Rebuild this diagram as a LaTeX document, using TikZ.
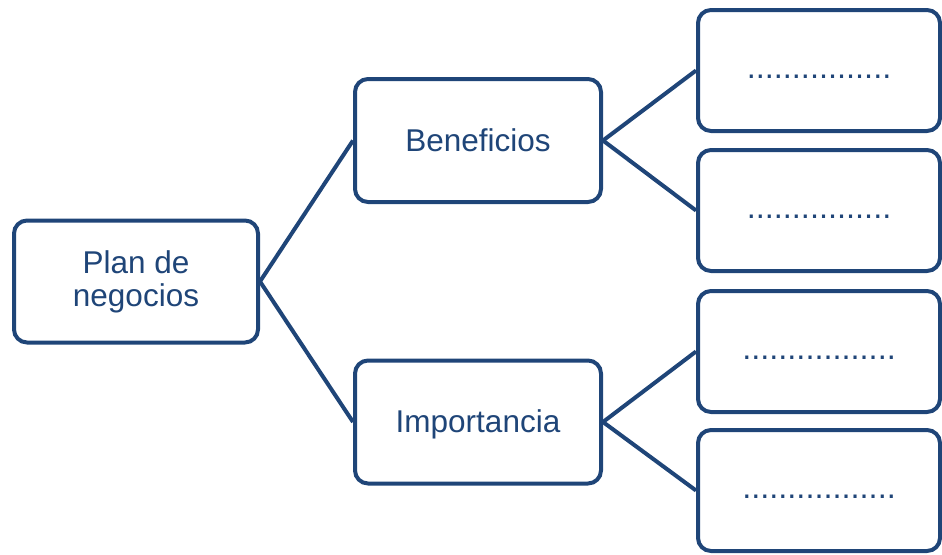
\documentclass[tikz,border=0pt]{standalone}
\usepackage{fontspec}
\setmainfont{Liberation Sans}
\definecolor{navy}{RGB}{31,69,120}
\begin{document}
\begin{tikzpicture}[x=1pt,y=-1pt,
  box/.style={draw=navy, line width=4pt, rounded corners=13pt, fill=white,
    text=navy, font=\fontsize{31.5}{33}\selectfont, align=center, inner sep=0pt},
  word/.style={text height=23pt, text depth=2pt},
  dots/.style={font=\fontsize{32.5}{33}\selectfont, text height=20pt, text depth=4pt},
  link/.style={draw=navy, line width=4pt}]
\useasboundingbox (0,0) rectangle (942,554);
\node[box, minimum width=244pt, minimum height=122pt] (plan) at (136,281.5) {Plan de\\negocios};
\node[box, word, minimum width=246pt, minimum height=123pt] (ben) at (478,140.5) {Beneficios};
\node[box, word, minimum width=246pt, minimum height=123pt] (imp) at (478,422) {Importancia};
\node[box, dots, minimum width=242pt, minimum height=121pt] (r1) at (819,70.5) {................};
\node[box, dots, minimum width=242pt, minimum height=121pt] (r2) at (819,210.5) {................};
\node[box, dots, minimum width=242pt, minimum height=121pt] (r3) at (819,351.5) {.................};
\node[box, dots, minimum width=242pt, minimum height=121pt] (r4) at (819,490.5) {.................};
\draw[link] (plan.east) -- (ben.west);
\draw[link] (plan.east) -- (imp.west);
\draw[link] (ben.east) -- (r1.west);
\draw[link] (ben.east) -- (r2.west);
\draw[link] (imp.east) -- (r3.west);
\draw[link] (imp.east) -- (r4.west);
\end{tikzpicture}
\end{document}
